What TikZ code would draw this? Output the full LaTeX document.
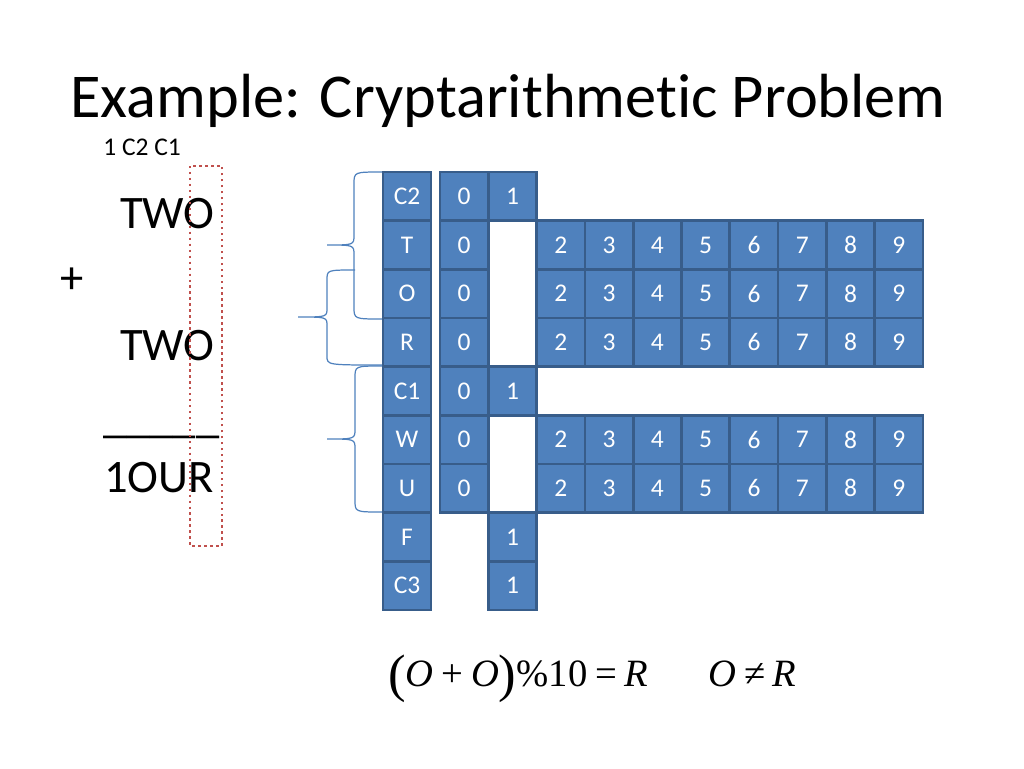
\documentclass[tikz,border=0pt]{standalone}
\usepackage{fontspec}
\setmainfont[RawFeature=-liga]{Carlito}
\newfontfamily\tms{Liberation Serif}
\usepackage{xcolor}
\usetikzlibrary{positioning}
\definecolor{cellfill}{HTML}{4F81BD}
\definecolor{cellline}{HTML}{385D8A}
\definecolor{dotred}{HTML}{C0504D}
\tikzset{
  cell/.style={draw=cellline, fill=cellfill, line width=1.5pt, text=white,
    minimum width=0.966cm, minimum height=0.973cm, inner sep=0pt,
    font=\fontsize{14.5}{16}\selectfont},
  sumtext/.style={font=\fontsize{26.5}{30}\selectfont, inner sep=0pt},
  bracket/.style={draw=cellfill, line width=0.7pt}
}
\begin{document}
\begin{tikzpicture}[x=0.02cm, y=-0.02cm]
    \useasboundingbox (0,0) rectangle (1024,768);
    % Title
    \node[anchor=base west, inner sep=0pt, font=\fontsize{35.5}{40}\selectfont] (title) at (70,117) {Example: Cryptarithmetic Problem};
    
    % Sum on the left
    \node[anchor=base west, inner sep=0pt, font=\fontsize{14.5}{16}\selectfont] (carry) at (103,155) {1 C2 C1};
    \node[sumtext, anchor=base east] (two1) at (215,228) {TWO};
    \node[sumtext] (plus) at (72,281) {+};
    \node[sumtext, anchor=base east] (two2) at (215,360) {TWO};
    \node[sumtext, anchor=base west] (bar) at (103,432) {\_\_\_\_\_};
    \node[sumtext, anchor=base west] (four) at (104,492) {1OUR};
    \draw[dotred, dotted, line width=1.4pt] (190,166) rectangle (222,546);
    
    % Variable column
    \foreach \lab [count=\i from 0] in {C2,T,O,R,C1,W,U,F,C3}
        \node[cell] (l\i) at (407, {196.3+48.67*\i}) {\lab};
    
    % Domains
    \foreach \r in {0,...,6}
        \node[cell] (v\r-0) at (464.15, {196.3+48.67*\r}) {0};
    \foreach \r in {0,4,7,8}
        \node[cell] (v\r-1) at (512.45, {196.3+48.67*\r}) {1};
    \foreach \r in {1,2,3,5,6}
        \foreach \v in {2,...,9}
            \node[cell] (v\r-\v) at ({464.15+48.3*\v}, {196.3+48.67*\r}) {\v};
    
    % Braces
    \draw[bracket] (382,172) .. controls (354,172) .. (354,184) -- (354,235) .. controls (354,245) .. (327,245) .. controls (354,245) .. (354,255) -- (354,307) .. controls (354,319) .. (382,319);
    \draw[bracket] (355,270) .. controls (327,270) .. (327,280) -- (327,308) .. controls (327,317) .. (298,317) .. controls (327,317) .. (327,326) -- (327,356) .. controls (327,365) .. (382,365);
    \draw[bracket] (382,366) .. controls (355,366) .. (355,378) -- (355,429) .. controls (355,439) .. (327,439) .. controls (355,439) .. (355,449) -- (355,500) .. controls (355,512) .. (382,512);
    
    % Constraints
    \node[anchor=base west, inner sep=0pt, font=\tms\fontsize{22}{26}\selectfont] (eq1) at (388,686)
        {\raisebox{-0.14em}{\fontsize{30}{30}\selectfont(}\textit{O}\hspace{0.2em}+\hspace{0.2em}\textit{O}\raisebox{-0.14em}{\fontsize{30}{30}\selectfont)}\%10\hspace{0.2em}=\hspace{0.2em}\textit{R}};
    \node[anchor=base west, inner sep=0pt, font=\tms\fontsize{22}{26}\selectfont] (eq2) at (708,686)
        {\textit{O}\hspace{0.2em}≠\hspace{0.2em}\textit{R}};
\end{tikzpicture}
\end{document}
